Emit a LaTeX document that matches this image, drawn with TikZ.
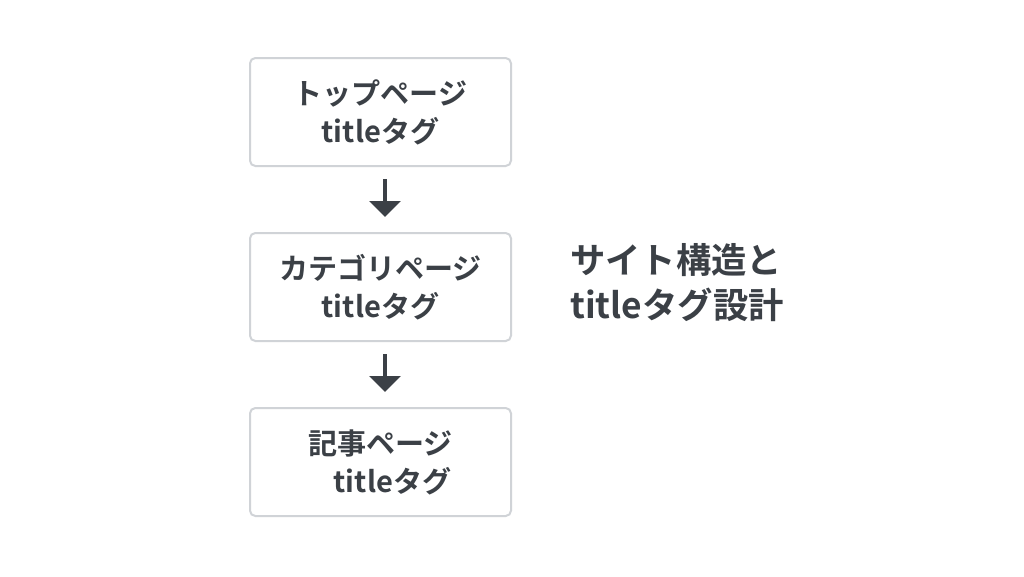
\documentclass[tikz,border=0pt]{standalone}
\usepackage{fontspec}
\setmainfont{Noto Sans CJK JP}[BoldFont={* Bold}]
\usetikzlibrary{arrows.meta}
\definecolor{txt}{HTML}{3B4046}
\definecolor{bord}{HTML}{D0D3D7}
\tikzset{
  pagebox/.style={draw=bord, line width=1.5pt, rounded corners=4pt, fill=white,
    minimum width=195.75pt, minimum height=81pt, align=center, text=txt,
    font=\fontsize{21.8}{28.5}\selectfont\bfseries},
  arr/.style={draw=txt, line width=3.6pt, -{Triangle[length=12pt,width=23pt]},
    shorten <=9pt, shorten >=11.25pt},
  ttl/.style={align=left, text=txt, anchor=west, inner sep=0pt,
    font=\fontsize{26.5}{33.75}\selectfont\bfseries}
}
\begin{document}
\begin{tikzpicture}[x=0.75pt,y=-0.75pt]
\useasboundingbox[fill=white] (0,0) rectangle (1024,576);
\node[pagebox] (b1) at (380.5,112) {トップページ\\titleタグ};
\node[pagebox] (b2) at (380.5,287) {カテゴリページ\\titleタグ};
\node[pagebox] (b3) at (380.5,462) {記事ページ\\\hspace*{18pt}titleタグ};
\draw[arr, transform canvas={xshift=3.4pt}] (b1.south) -- (b2.north);
\draw[arr, transform canvas={xshift=3.4pt}] (b2.south) -- (b3.north);
\node[ttl] (t) at (570,283) {サイト構造と\\titleタグ設計};
\end{tikzpicture}
\end{document}
